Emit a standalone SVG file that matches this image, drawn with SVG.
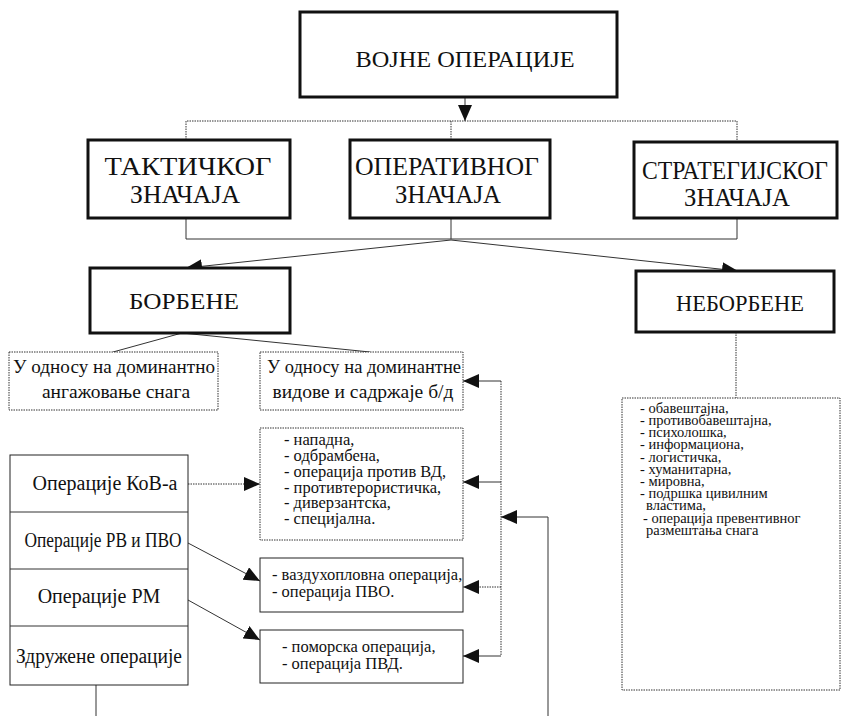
<svg xmlns="http://www.w3.org/2000/svg" width="845" height="716" viewBox="0 0 845 716">
<style>
.bg{fill:#fff}
.thick{fill:#fff;stroke:#111;stroke-width:3}
.thin{fill:#fff;stroke:#222;stroke-width:1}
.dot{fill:#fff;stroke:#333;stroke-width:1;stroke-dasharray:1.5 1}
.ln{fill:none;stroke:#333;stroke-width:1}
.dl{fill:none;stroke:#333;stroke-width:1;stroke-dasharray:1.5 1}
text{font-family:"Liberation Serif","Times New Roman",serif;fill:#111}
.t1{font-size:24px;text-anchor:middle}
.t2{font-size:26px;text-anchor:middle}
.t2b{font-size:24px;text-anchor:middle}
.t3{font-size:19.5px;text-anchor:middle}
.t3t{font-size:20px;text-anchor:middle}
.t4{font-size:16.5px}
.t5{font-size:14.5px}
</style>
<defs>
<marker id="ah" markerWidth="16" markerHeight="14" refX="16" refY="7" orient="auto" markerUnits="userSpaceOnUse">
<path d="M0,0 L16,7 L0,14 z" fill="#111"/>
</marker>
</defs>
<rect class="bg" x="0" y="0" width="845" height="716"/>
<g id="connectors">
<line class="ln" x1="465" y1="97" x2="465" y2="121" marker-end="url(#ah)"/>
<polyline class="dl" points="186,140 186,121 737,121 737,142"/>
<line class="dl" x1="451" y1="121" x2="451" y2="140"/>
<polyline class="ln" points="186,218 186,239 737,239 737,218"/>
<line class="ln" x1="451" y1="218" x2="451" y2="239"/>
<line class="ln" x1="451" y1="240" x2="186" y2="268" marker-end="url(#ah)"/>
<line class="ln" x1="451" y1="240" x2="738" y2="271" marker-end="url(#ah)"/>
<line class="ln" x1="182" y1="333" x2="113" y2="352"/>
<line class="ln" x1="182" y1="333" x2="370" y2="352"/>
<line class="dl" x1="736" y1="332" x2="736" y2="398"/>
<line class="dl" x1="501" y1="381" x2="501" y2="656"/>
<line class="ln" x1="501" y1="381" x2="463" y2="381" marker-end="url(#ah)"/>
<line class="ln" x1="501" y1="482" x2="463" y2="482" marker-end="url(#ah)"/>
<line class="dl" x1="501" y1="587" x2="463" y2="587" marker-end="url(#ah)"/>
<line class="ln" x1="501" y1="656" x2="463" y2="656" marker-end="url(#ah)"/>
<polyline class="ln" points="548,716 548,517 501,517" marker-end="url(#ah)"/>
<line class="dl" x1="188" y1="484" x2="260" y2="484" marker-end="url(#ah)"/>
<line class="ln" x1="188" y1="543" x2="260" y2="581" marker-end="url(#ah)"/>
<line class="ln" x1="188" y1="600" x2="260" y2="640" marker-end="url(#ah)"/>
<line class="ln" x1="96" y1="685" x2="96" y2="716"/>
</g>
<g id="vojne-operacije">
<rect class="thick" x="300" y="12" width="317" height="85"/>
<text class="t1" x="465" y="67" textLength="219" lengthAdjust="spacingAndGlyphs">ВОЈНЕ ОПЕРАЦИЈЕ</text>
</g>
<g id="takticki">
<rect class="thick" x="88" y="140" width="202" height="78"/>
<text class="t2" x="188" y="175" textLength="167" lengthAdjust="spacingAndGlyphs">ТАКТИЧКОГ</text>
<text class="t2" x="185" y="203" textLength="110" lengthAdjust="spacingAndGlyphs">ЗНАЧАЈА</text>
</g>
<g id="operativni">
<rect class="thick" x="350" y="140" width="200" height="78"/>
<text class="t2" x="447" y="175" textLength="184" lengthAdjust="spacingAndGlyphs">ОПЕРАТИВНОГ</text>
<text class="t2" x="448" y="203" textLength="106" lengthAdjust="spacingAndGlyphs">ЗНАЧАЈА</text>
</g>
<g id="strategijski">
<rect class="thick" x="634" y="142" width="203" height="76"/>
<text class="t2" x="735" y="179" textLength="186" lengthAdjust="spacingAndGlyphs">СТРАТЕГИЈСКОГ</text>
<text class="t2" x="737" y="206" textLength="106" lengthAdjust="spacingAndGlyphs">ЗНАЧАЈА</text>
</g>
<g id="borbene">
<rect class="thick" x="90" y="268" width="200" height="65"/>
<text class="t2b" x="184" y="309" textLength="110" lengthAdjust="spacingAndGlyphs">БОРБЕНЕ</text>
</g>
<g id="neborbene">
<rect class="thick" x="636" y="271" width="198" height="61"/>
<text class="t2b" x="740" y="311" textLength="128" lengthAdjust="spacingAndGlyphs">НЕБОРБЕНЕ</text>
</g>
<g id="angazovanje">
<rect class="dot" x="9" y="352" width="209" height="58"/>
<text class="t3" x="114" y="373" textLength="202" lengthAdjust="spacingAndGlyphs">У односу на доминантно</text>
<text class="t3" x="116" y="398">ангажовање снага</text>
</g>
<g id="vidovi">
<rect class="dot" x="260" y="352" width="203" height="58"/>
<text class="t3" x="364" y="373" textLength="194" lengthAdjust="spacingAndGlyphs">У односу на доминантне</text>
<text class="t3" x="363" y="398">видове и садржаје б/д</text>
</g>
<g id="tabela">
<rect class="thin" x="10" y="455" width="178" height="230"/>
<line class="ln" x1="10" y1="512" x2="188" y2="512"/>
<line class="ln" x1="10" y1="569" x2="188" y2="569"/>
<line class="ln" x1="10" y1="626" x2="188" y2="626"/>
<text class="t3t" x="105" y="490">Операције КоВ-а</text>
<text class="t3t" x="103" y="547" textLength="157" lengthAdjust="spacingAndGlyphs">Операције РВ и ПВО</text>
<text class="t3t" x="99" y="603">Операције РМ</text>
<text class="t3t" x="99" y="663" textLength="166" lengthAdjust="spacingAndGlyphs">Здружене операције</text>
</g>
<g id="lista-kov">
<rect class="dot" x="260" y="428" width="203" height="112"/>
<text class="t4" x="284" y="445">- нападна,</text>
<text class="t4" x="284" y="461">- одбрамбена,</text>
<text class="t4" x="284" y="477">- операција против ВД,</text>
<text class="t4" x="284" y="493">- противтерористичка,</text>
<text class="t4" x="284" y="508">- диверзантска,</text>
<text class="t4" x="284" y="524">- специјална.</text>
</g>
<g id="lista-rv">
<rect class="thin" x="260" y="558" width="203" height="54"/>
<text class="t4" x="272" y="580">- ваздухопловна операција,</text>
<text class="t4" x="272" y="597">- операција ПВО.</text>
</g>
<g id="lista-rm">
<rect class="thin" x="260" y="630" width="203" height="53"/>
<text class="t4" x="282" y="652">- поморска операција,</text>
<text class="t4" x="282" y="669">- операција ПВД.</text>
</g>
<g id="lista-neborbene">
<rect class="dot" x="622" y="398" width="218" height="292"/>
<text class="t5" x="640" y="413">- обавештајна,</text>
<text class="t5" x="640" y="425">- противобавештајна,</text>
<text class="t5" x="640" y="437">- психолошка,</text>
<text class="t5" x="640" y="449">- информациона,</text>
<text class="t5" x="640" y="462">- логистичка,</text>
<text class="t5" x="640" y="474">- хуманитарна,</text>
<text class="t5" x="640" y="486">- мировна,</text>
<text class="t5" x="640" y="498">- подршка цивилним</text>
<text class="t5" x="646" y="510">властима,</text>
<text class="t5" x="643" y="523">- операција превентивног</text>
<text class="t5" x="646" y="535">размештања снага</text>
</g>
</svg>
